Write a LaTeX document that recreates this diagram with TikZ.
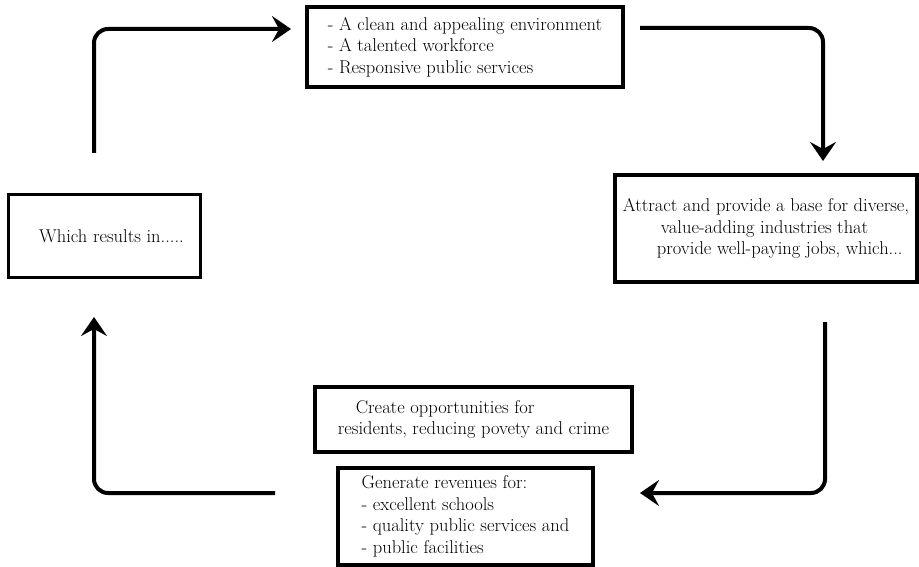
\documentclass[tikz,border=0pt]{standalone}
\usetikzlibrary{arrows.meta,positioning}

\begin{document}
\begin{tikzpicture}[x=1pt, y=-1pt,
  box/.style={rectangle, draw, line width=3.5pt, align=left, inner sep=0pt,
    font=\fontsize{18.5}{21.5}\selectfont},
  arrow/.style={-{Stealth[length=19pt,width=26pt,inset=7pt]}, line width=4pt,
    rounded corners=14pt}
]
  \useasboundingbox (0,0) rectangle (919,567);

  % The four steps of the cycle
  \node[box, minimum width=316pt, minimum height=80pt] (assets) at (465,47)
    {- A clean and appealing environment\\- A talented workforce\\- Responsive public services};
  \node[box, minimum width=302pt, minimum height=107pt] (attract) at (766,228.5)
    {Attract and provide a base for diverse,\\\hspace*{38pt}value-adding industries that\\\hspace*{34pt}provide well-paying jobs, which...};
  \node[box, line width=3pt, minimum width=192pt, minimum height=82pt] (results) at (104,236)
    {\hspace*{15pt}Which results in.....};
  \node[box, minimum width=317pt, minimum height=65pt] (create) at (473.5,419.5)
    {\hspace*{18pt}Create opportunities for\\residents, reducing povety and crime};
  \node[box, minimum width=255pt, minimum height=97pt] (revenue) at (465.5,516.5)
    {Generate revenues for:\\- excellent schools\\- quality public services and\\- public facilities};

  % Free ends of the arrows
  \coordinate (a1s) at (94,153);  \coordinate (a1e) at (291,29);
  \coordinate (a2s) at (640,28);  \coordinate (a2e) at (823,161);
  \coordinate (a3s) at (825,322); \coordinate (a3e) at (640,493);
  \coordinate (a4s) at (275,493); \coordinate (a4e) at (94,317);

  % Arrows round the cycle
  \draw[arrow] (a1s) |- (a1e);
  \draw[arrow] (a2s) -| (a2e);
  \draw[arrow] (a3s) |- (a3e);
  \draw[arrow] (a4s) -| (a4e);
\end{tikzpicture}
\end{document}
